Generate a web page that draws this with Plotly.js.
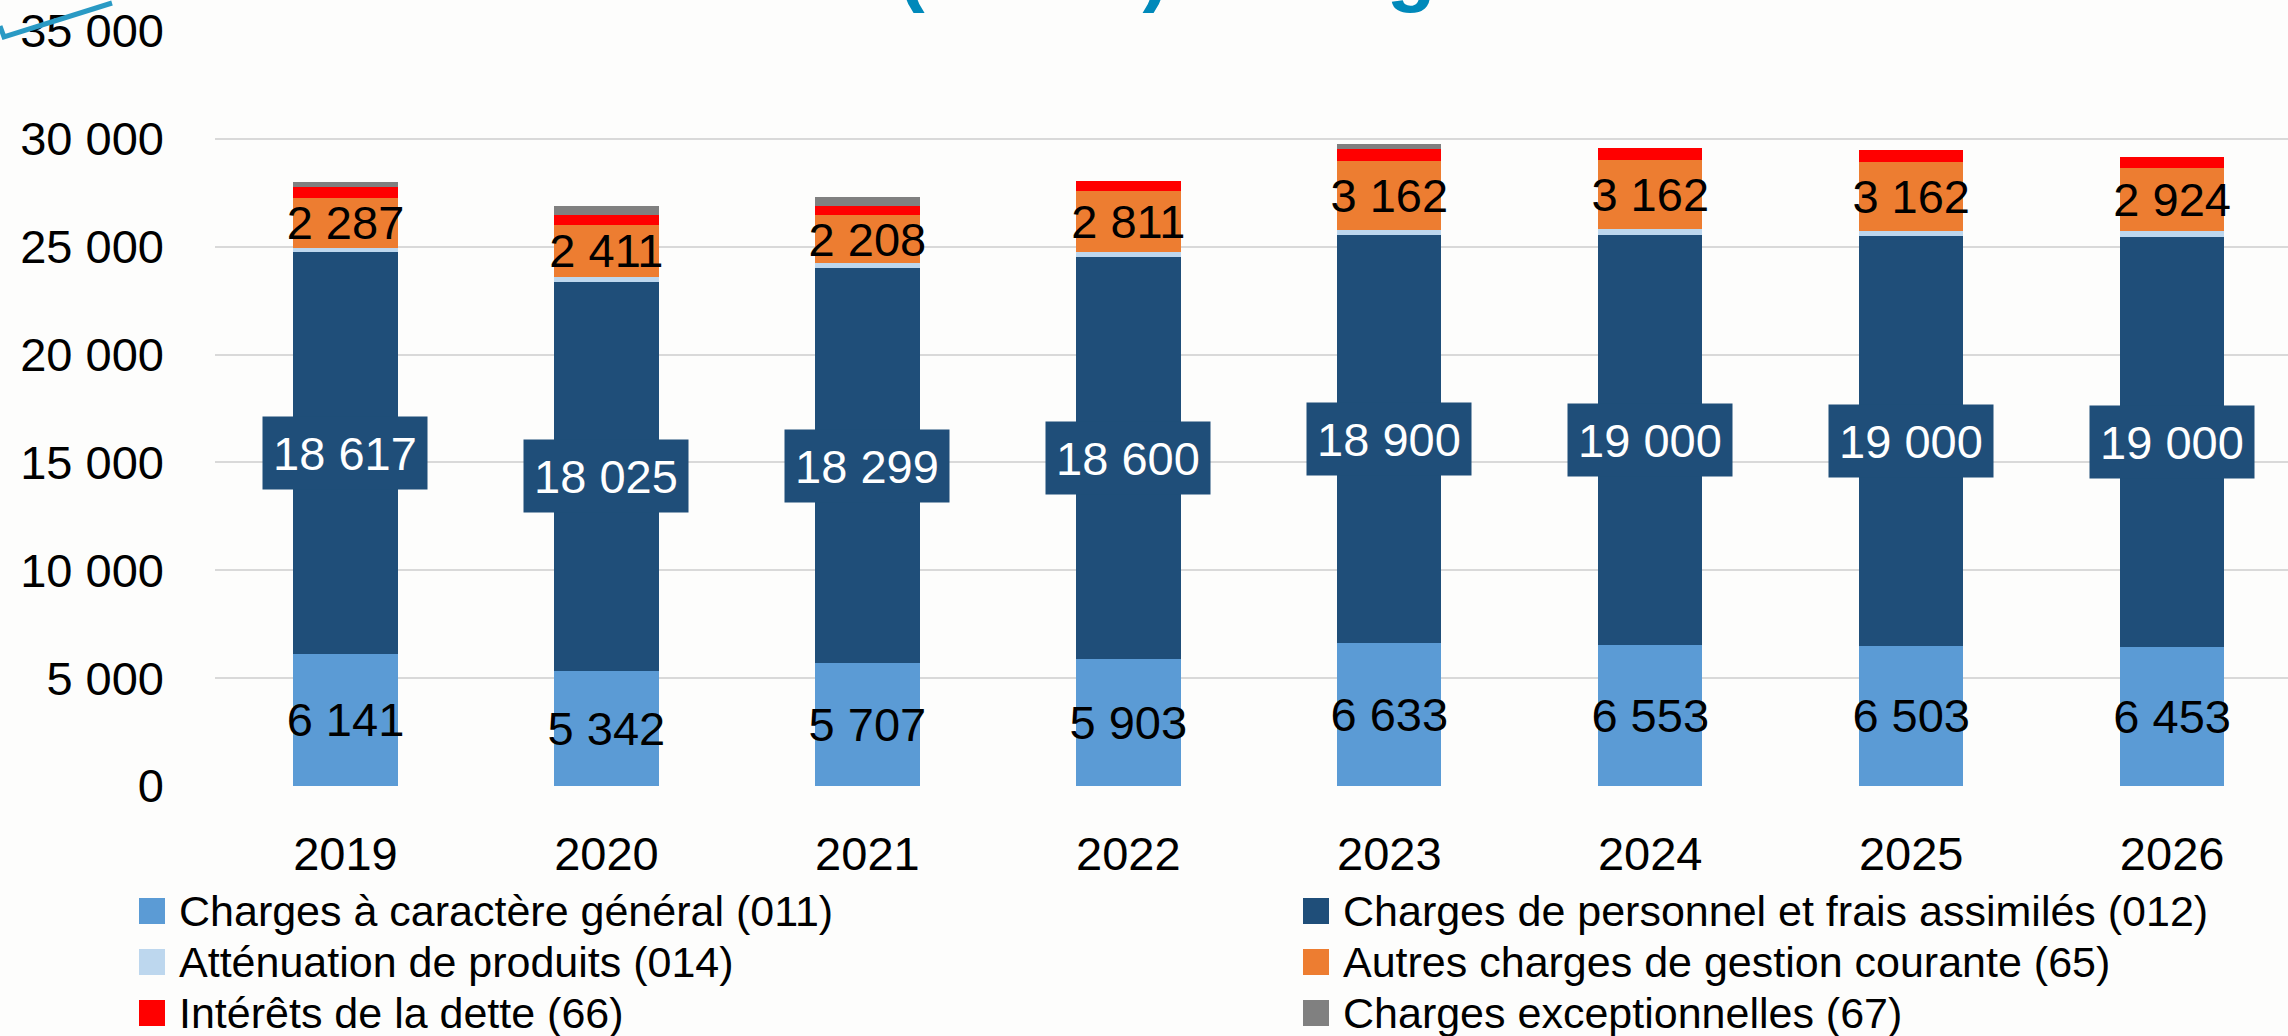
<!DOCTYPE html>
<html>
<head>
<meta charset="utf-8">
<script src="https://cdn.plot.ly/plotly-3.0.1.min.js"></script>
<style>html,body{margin:0;padding:0;background:#fdfdfc;}#chart{width:2288px;height:1036px;}</style>
</head>
<body>
<div id="chart"></div>
<script>
// ---- data (k€) ----
const years = ['2019', '2020', '2021', '2022', '2023', '2024', '2025', '2026'];
const c011 = [6141, 5342, 5707, 5903, 6633, 6553, 6503, 6453];
const c012 = [18617, 18025, 18299, 18600, 18900, 19000, 19000, 19000];
const c014 = [200, 245, 240, 275, 260, 290, 240, 255];
const c65 = [2287, 2411, 2208, 2811, 3162, 3162, 3162, 2924];
const c66 = [510, 465, 450, 480, 570, 590, 590, 540];
const c67 = [265, 385, 380, 0, 230, 0, 0, 0];
const seriesNames = [
  'Charges à caractère général (011)',
  'Charges de personnel et frais assimilés (012)',
  'Atténuation de produits (014)',
  'Autres charges de gestion courante (65)',
  'Intérêts de la dette (66)',
  'Charges exceptionnelles (67)'
];
const titleText = 'Section de fonctionnement (en K€) - budget';

// ---- styles ----
const colors = ['#5B9BD5', '#1F4E79', '#BDD7EE', '#ED7D31', '#FF0000', '#808080'];
const FONT = 'Liberation Sans, Arial, sans-serif';
const W = 2288, H = 1036;
const L = 215, T = 31, B = 250, R = 0;
const plotW = W - L - R, plotH = H - T - B;
const px2x = px => (px - L) / plotW;
const py2y = py => (H - B - py) / plotH;
const fmt = v => String(Math.round(v)).replace(/\B(?=(\d{3})+(?!\d))/g, ' ');

const seriesValues = [c011, c012, c014, c65, c66, c67];
const labelled = [true, false, false, true, false, false];

const traces = seriesValues.map((vals, i) => ({
  type: 'bar',
  name: seriesNames[i],
  x: years,
  y: vals,
  marker: {color: colors[i], line: {width: 0}},
  showlegend: false,
  hoverinfo: 'skip',
  text: labelled[i] ? vals.map(fmt) : undefined,
  texttemplate: labelled[i] ? '%{text}' : undefined,
  textposition: labelled[i] ? 'inside' : 'none',
  insidetextanchor: 'middle',
  textangle: 0,
  constraintext: 'none',
  insidetextfont: {family: FONT, size: 47, color: '#000000'}
}));

const annotations = [];
// 012 labels with boxed background (x = category index)
years.forEach((yr, i) => {
  annotations.push({
    x: i, y: c011[i] + c012[i] / 2, xref: 'x', yref: 'y',
    text: fmt(c012[i]), showarrow: false,
    font: {family: FONT, size: 47, color: '#FFFFFF'},
    bgcolor: colors[1], width: 164, height: 72, borderpad: 0,
    xanchor: 'center', yanchor: 'middle'
  });
});
// title (cut off at the top of the picture)
annotations.push({
  xref: 'paper', yref: 'paper', x: px2x(1508), y: py2y(-77),
  xanchor: 'right', yanchor: 'top', showarrow: false, borderpad: 0,
  text: titleText,
  font: {family: FONT, size: 80, color: '#0089BA', weight: 700}
});

// legend built from names and colors (2 columns x 3 rows)
const shapes = [];
const colText = [178, 1342], colMark = [139, 1303], rowY = [911, 962, 1013];
seriesNames.forEach((nm, i) => {
  const c = i % 2, r = Math.floor(i / 2);
  shapes.push({
    type: 'rect', xref: 'paper', yref: 'paper', layer: 'above',
    x0: px2x(colMark[c]), x1: px2x(colMark[c] + 26),
    y0: py2y(rowY[r] + 13), y1: py2y(rowY[r] - 13),
    fillcolor: colors[i], line: {width: 0}
  });
  annotations.push({
    xref: 'paper', yref: 'paper', x: px2x(colText[c]), y: py2y(rowY[r]),
    xanchor: 'left', yanchor: 'middle', showarrow: false, borderpad: 0,
    text: nm, font: {family: FONT, size: 43, color: '#000000'}
  });
});
// logo fragment at top-left
shapes.push({
  type: 'path', xref: 'paper', yref: 'paper', layer: 'above',
  path: `M ${px2x(0)},${py2y(26)} L ${px2x(4)},${py2y(37)} L ${px2x(112)},${py2y(3)}`,
  line: {color: '#2A9AC4', width: 5}
});

const layout = {
  width: W, height: H,
  margin: {l: L, r: R, t: T, b: B, pad: 0},
  paper_bgcolor: '#fdfdfc', plot_bgcolor: '#fdfdfc',
  separators: ', ',
  barmode: 'stack',
  bargap: 0.6,
  showlegend: false,
  font: {family: FONT, size: 47, color: '#000000'},
  xaxis: {
    type: 'category', range: [-0.5, 7.444],
    showgrid: false, zeroline: false, showline: false,
    ticks: '', ticklabelstandoff: 36,
    tickfont: {family: FONT, size: 47, color: '#000000'}
  },
  yaxis: {
    range: [0, 35000], dtick: 5000, tickformat: ',d',
    showgrid: true, gridcolor: '#D9D9D9', gridwidth: 2,
    zeroline: false, showline: false, ticks: '',
    ticklabelstandoff: 50,
    tickfont: {family: FONT, size: 47, color: '#000000'}
  },
  annotations: annotations,
  shapes: shapes
};

Plotly.newPlot('chart', traces, layout, {staticPlot: true, displayModeBar: false});
</script>
</body>
</html>
